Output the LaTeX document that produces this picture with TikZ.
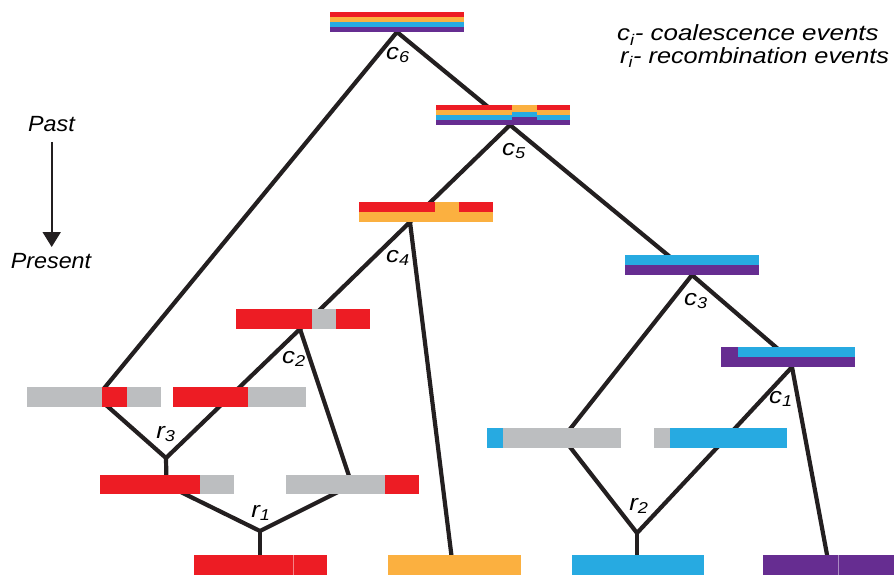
\documentclass[tikz,border=0pt]{standalone}
\usepackage{fontspec}
\usepackage{graphicx}
\setmainfont{Liberation Sans}
\usetikzlibrary{arrows.meta}

\definecolor{bred}{HTML}{ED1C24}
\definecolor{borange}{HTML}{FBB040}
\definecolor{bblue}{HTML}{27AAE1}
\definecolor{bpurple}{HTML}{662D91}
\definecolor{bgrey}{HTML}{BCBEC0}
\definecolor{edgec}{HTML}{231F20}

% horizontally stretched text
\newcommand{\wide}[2][1.15]{\scalebox{#1}[1]{#2}}
% one coloured segment of a chromosome bar: colour, x1, x2, y1, y2
\newcommand{\seg}[5]{\fill[#1] (#2,#4) rectangle (#3,#5);}

\begin{document}
\begin{tikzpicture}[x=1pt,y=-1pt,
  edge/.style={line width=4.2pt, draw=edgec, line join=miter},
  evt/.style={inner sep=0pt, font=\fontsize{22.5}{26}\selectfont\itshape},
  note/.style={inner sep=0pt, font=\fontsize{22}{26}\selectfont\itshape, anchor=base west},
  timetxt/.style={inner sep=0pt, font=\fontsize{22}{26}\selectfont\itshape, anchor=base},
  divider/.style={line width=0.7pt}]
\useasboundingbox (0,0) rectangle (894,575);

% ---- event points of the genealogy ----
\coordinate (A6) at (397,32);
\coordinate (A5) at (510,125);
\coordinate (A4) at (410,222);
\coordinate (A3) at (692,275);
\coordinate (A2) at (300,329);
\coordinate (A1) at (792,367);
\coordinate (C1T) at (792,361);
\coordinate (K3L) at (97,397);
\coordinate (J3) at (166,458);
\coordinate (K1L) at (166.5,485);
\coordinate (K1R) at (352,485);
\coordinate (J1) at (260,531);
\coordinate (K2L) at (563,438);
\coordinate (K2R) at (726,438);
\coordinate (J2) at (637,533);
\coordinate (Rb) at (260,560);
\coordinate (Ob) at (452,560);
\coordinate (Bb) at (637,560);
\coordinate (Pb) at (828,560);

% ---- branches ----
\draw[edge] (A5) -- (A6) -- (K3L) -- (J3) -- (K1L) -- (J1) -- (K1R) -- (A2) -- (J3);
\draw[edge] (A4) -- (A5) -- (A3);
\draw[edge] (A2) -- (A4) -- (Ob);
\draw[edge] (J1) -- (Rb);
\draw[edge] (C1T) -- (A3) -- (K2L) -- (J2) -- (K2R) -- (A1) -- (Pb);
\draw[edge] (J2) -- (Bb);

% ---- chromosome bars ----
% c6
\seg{bred}{330}{464}{12}{17}
\seg{borange}{330}{464}{17}{22}
\seg{bblue}{330}{464}{22}{27}
\seg{bpurple}{330}{464}{27}{32}
% c5
\seg{bred}{436}{570}{105}{110}
\seg{borange}{436}{570}{110}{115}
\seg{bblue}{436}{570}{115}{120}
\seg{bpurple}{436}{570}{120}{125}
\seg{borange}{512}{537}{105}{112}
\seg{bblue}{512}{537}{112}{117}
\seg{bpurple}{512}{537}{117}{125}
% c4
\seg{bred}{359}{493}{202}{212}
\seg{borange}{435}{459}{202}{212}
\seg{borange}{359}{493}{212}{222}
% c3
\seg{bblue}{625}{759}{255}{265}
\seg{bpurple}{625}{759}{265}{275}
% c1
\seg{bpurple}{721}{738}{347}{357}
\seg{bblue}{738}{855}{347}{357}
\seg{bpurple}{721}{855}{357}{367}
% c2
\seg{bred}{236}{312}{309}{329}
\seg{bgrey}{312}{336}{309}{329}
\seg{bred}{336}{370}{309}{329}
% r3
\seg{bgrey}{27}{161}{387}{407}
\seg{bred}{102}{127}{387}{407}
\seg{bred}{173}{248}{387}{407}
\seg{bgrey}{248}{306}{387}{407}
% r1
\seg{bred}{100}{200}{475}{494}
\seg{bgrey}{200}{234}{475}{494}
\seg{bgrey}{286}{385}{475}{494}
\seg{bred}{385}{419}{475}{494}
% r2
\seg{bblue}{487}{503}{428}{448}
\seg{bgrey}{503}{621}{428}{448}
\seg{bgrey}{654}{670}{428}{448}
\seg{bblue}{670}{787}{428}{448}
% present-day samples
\seg{bred}{194}{327}{555}{575}
\draw[divider, draw=bred!55!white] (293,555) -- (293,575);
\seg{borange}{388}{521}{555}{575}
\seg{bblue}{572}{704}{555}{575}
\seg{bpurple}{763}{894}{555}{575}
\draw[divider, draw=bpurple!55!white] (838,555) -- (838,575);

% ---- event labels ----
\node[evt] (l6) at (398,55) {\wide{c\textsubscript{6}}};
\node[evt] (l5) at (514,151) {\wide{c\textsubscript{5}}};
\node[evt] (l4) at (398,258) {\wide{c\textsubscript{4}}};
\node[evt] (l3) at (696,301) {\wide{c\textsubscript{3}}};
\node[evt] (l2) at (294,359) {\wide{c\textsubscript{2}}};
\node[evt] (l1) at (781,399) {\wide{c\textsubscript{1}}};
\node[evt] (m3) at (166,434) {\wide{r\textsubscript{3}}};
\node[evt] (m1) at (261,513) {\wide{r\textsubscript{1}}};
\node[evt] (m2) at (639,506) {\wide{r\textsubscript{2}}};

% ---- legend ----
\node[note] (legc) at (617,41) {\wide[1.18]{c\textsubscript{i}- coalescence events}};
\node[note] (legr) at (620,63.5) {\wide[1.15]{r\textsubscript{i}- recombination events}};

% ---- time direction ----
\node[timetxt] (past) at (51.5,131.7) {\wide[1.06]{Past}};
\node[timetxt] (present) at (51,268) {\wide[1.06]{Present}};
\coordinate (arrTop) at (51.7,142);
\coordinate (arrTip) at (51.7,247);
\draw[line width=2pt, draw=edgec, -{Triangle[width=18pt,length=15pt]}] (arrTop) -- (arrTip);
\end{tikzpicture}
\end{document}
